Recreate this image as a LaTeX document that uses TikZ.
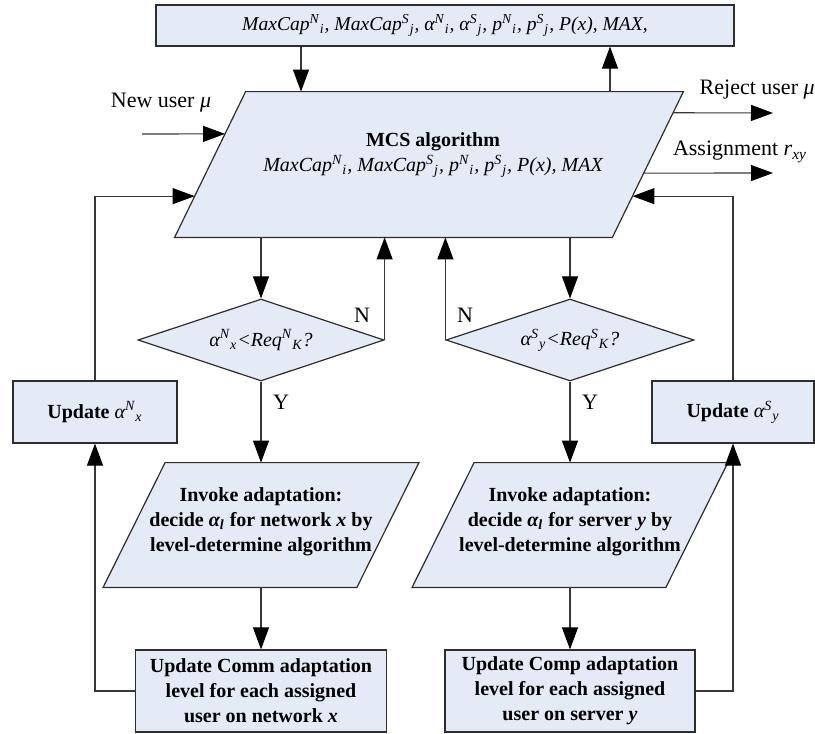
\documentclass[tikz,border=0pt]{standalone}
\usepackage{fontspec}
\setmainfont{Liberation Serif}
\usetikzlibrary{arrows.meta,shapes.geometric,calc}

\definecolor{boxfill}{RGB}{228,234,246}
\definecolor{boxline}{RGB}{45,45,45}
\definecolor{wire}{RGB}{55,55,55}

% sub/superscripts written one after the other
\newcommand{\su}[2]{\textsuperscript{#1}\textsubscript{#2}}

\tikzset{
  box/.style={draw=boxline, fill=boxfill, line width=0.6pt, inner sep=1pt, align=center,
    font=\fontsize{10}{12.5}\selectfont},
  frame/.style={rectangle, inner sep=0pt},
  paraline/.style={draw=boxline, fill=boxfill, line width=0.6pt, line join=miter},
  dia/.style={diamond, aspect=3, draw=boxline, fill=boxfill, line width=0.6pt, inner sep=0pt,
    font=\fontsize{10}{12.5}\selectfont},
  flow/.style={draw=wire, line width=0.55pt, -{Triangle[length=11pt,width=8pt,color=black]}},
  lbl/.style={inner sep=0pt, font=\fontsize{11}{13}\selectfont},
  txt/.style={inner sep=0pt, align=center, font=\fontsize{10}{12.5}\selectfont}
}

% parallelogram inside the frame node #1, top edge shifted right by #2 (px)
\newcommand{\slantbox}[2]{%
  \coordinate (#1-bl) at (#1.south west);
  \coordinate (#1-tl) at ($(#1.north west)+(#2,0)$);
  \coordinate (#1-tr) at (#1.north east);
  \coordinate (#1-br) at ($(#1.south east)-(#2,0)$);
  \path[paraline] (#1-bl) -- (#1-tl) -- (#1-tr) -- (#1-br) -- cycle;}

\begin{document}
\begin{tikzpicture}[x=0.5pt,y=-0.5pt]
\useasboundingbox (0,0) rectangle (815,734);

% helper points
\coordinate (cin) at (301,0);
\coordinate (cout) at (610,0);
\coordinate (nu) at (142,134);
\coordinate (rej) at (773,113);
\coordinate (asg) at (773,173);

% top parameter box
\node[box, minimum width=289pt, minimum height=20.5pt, font=\fontsize{9.8}{12}\selectfont] (vars) at (445,25.5)
  {\itshape MaxCap\su{N}{i}, MaxCap\su{S}{j}, α\su{N}{i}, α\su{S}{j}, p\su{N}{i}, p\su{S}{j}, P(x), MAX,};

% MCS block
\node[frame, minimum width=254pt, minimum height=72.5pt] (mcs) at (429,164.5) {};
\slantbox{mcs}{71}
\node[txt] (mcstext) at (433,155)
  {\textbf{MCS algorithm}\\ \itshape MaxCap\su{N}{i}, MaxCap\su{S}{j}, p\su{N}{i}, p\su{S}{j}, P(x), MAX};

% decisions
\node[dia, minimum width=123pt, minimum height=41pt] (qn) at (261,340)
  {\itshape α\su{N}{x}<Req\su{N}{K}?};
\node[dia, minimum width=124pt, minimum height=41pt] (qs) at (570,340)
  {\itshape α\su{S}{y}<Req\su{S}{K}?};

% update boxes on the sides
\node[box, minimum width=82pt, minimum height=31pt] (updn) at (95,412)
  {\textbf{Update} \textit{α\su{N}{x}}};
\node[box, minimum width=81pt, minimum height=31pt] (upds) at (733,412)
  {\textbf{Update} \textit{α\su{S}{y}}};

% adaptation steps
\node[frame, minimum width=157.5pt, minimum height=62pt] (invn) at (261,525) {};
\slantbox{invn}{62}
\node[txt] (invntext) at (261,522)
  {\bfseries Invoke adaptation:\\ \bfseries decide \textit{α\textsubscript{l}} for network \textit{x} by\\ \bfseries level-determine algorithm};
\node[frame, minimum width=157.5pt, minimum height=62pt] (invs) at (570,525) {};
\slantbox{invs}{62}
\node[txt] (invstext) at (570,522)
  {\bfseries Invoke adaptation:\\ \bfseries decide \textit{α\textsubscript{l}} for server \textit{y} by\\ \bfseries level-determine algorithm};

\node[box, minimum width=125.5pt, minimum height=41pt, font=\bfseries\fontsize{10}{12.5}\selectfont] (comm) at (261,691)
  {Update Comm adaptation\\ level for each assigned\\ user on network \textit{x}};
\node[box, minimum width=125pt, minimum height=41pt, font=\bfseries\fontsize{10}{12.5}\selectfont] (comp) at (570,691)
  {Update Comp adaptation\\ level for each assigned\\ user on server \textit{y}};

% free labels
\node[lbl] (lnew) at (161,103) {New user \textit{μ}};
\node[lbl, anchor=east] (lrej) at (815,90) {Reject user \textit{μ}};
\node[lbl] (lasg) at (740,152) {Assignment \textit{r}\textsubscript{\textit{xy}}};
\node[lbl] (nn) at (362,315) {N};
\node[lbl] (ns) at (465,315) {N};
\node[lbl] (yn) at (281,402) {Y};
\node[lbl] (ys) at (590,402) {Y};

% links between the top box and the MCS block
\draw[flow] (vars.south -| cin) -- (mcs.north -| cin);
\draw[flow] (mcs.north -| cout) -- (vars.south -| cout);

% inputs and outputs of the MCS block
\draw[flow] (nu) -- ($(mcs-bl)!0.710!(mcs-tl)$);
\draw[flow] ($(mcs-br)!0.855!(mcs-tr)$) -- (rej);
\draw[flow] ($(mcs-br)!0.441!(mcs-tr)$) -- (asg);

% MCS to the decisions and back on N
\draw[flow] (mcs.south -| qn) -- (qn.north);
\draw[flow] (mcs.south -| qs) -- (qs.north);
\draw[flow] (qn.east) -- (qn.east |- mcs.south);
\draw[flow] (qs.west) -- (qs.west |- mcs.south);

% Y branches
\draw[flow] (qn.south) -- (invn.north);
\draw[flow] (qs.south) -- (invs.north);
\draw[flow] (invn.south) -- (comm.north);
\draw[flow] (invs.south) -- (comp.north);

% feedback loops
\draw[flow] (comm.west) -| (updn.south);
\draw[flow] (comp.east) -| (upds.south);
\draw[flow] (updn.north) |- ($(mcs-bl)!0.283!(mcs-tl)$);
\draw[flow] (upds.north) |- ($(mcs-br)!0.283!(mcs-tr)$);
\end{tikzpicture}
\end{document}
